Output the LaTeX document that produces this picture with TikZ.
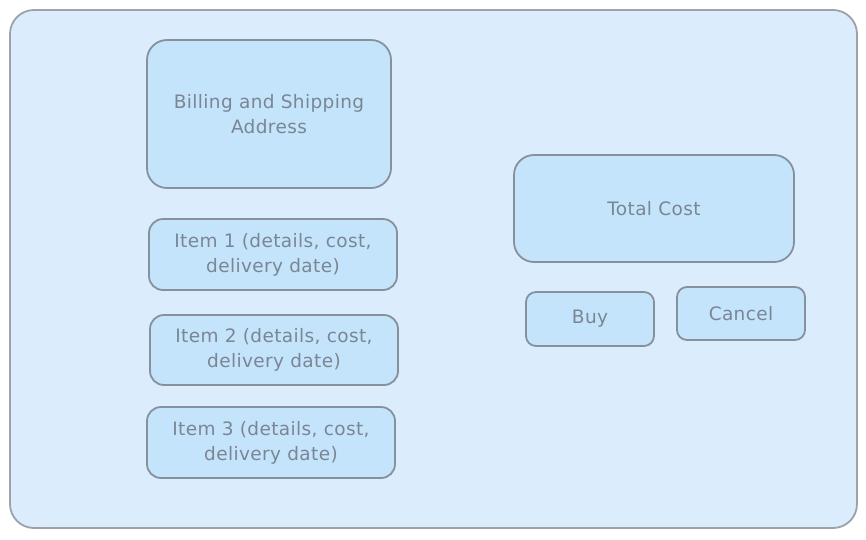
\documentclass[tikz,border=0pt]{standalone}
\usepackage{fontspec}
\setmainfont{DejaVu Sans}[LetterSpace=2]
\definecolor{outerfill}{HTML}{DBEDFD}
\definecolor{outerdraw}{HTML}{9CA2A8}
\definecolor{boxfill}{HTML}{C4E4FC}
\definecolor{boxdraw}{HTML}{86919C}
\definecolor{txt}{HTML}{7B8694}
\tikzset{
  uibox/.style={draw=boxdraw, fill=boxfill, line width=1.8pt, rounded corners=14pt},
  uilabel/.style={text=txt, font=\fontsize{18.5}{25}\selectfont, align=center},
}
\begin{document}
\begin{tikzpicture}[x=1pt,y=-1pt]
\useasboundingbox (0,0) rectangle (866,539);
\fill[white] (0,0) rectangle (866,539);
\node[draw=outerdraw, fill=outerfill, line width=1.8pt, rounded corners=24pt, minimum width=847pt, minimum height=518pt, inner sep=0pt] (frame) at (433.5,269) {};
\node[uibox, rounded corners=20pt, minimum width=244pt, minimum height=148pt] (addr) at (269,114) {};
\node[uilabel] (addrt) at (addr.center) {Billing and Shipping\\Address};
\node[uibox, minimum width=248pt, minimum height=71pt] (item1) at (273,254.5) {};
\node[uilabel] at (item1.center) {Item 1 (details, cost,\\delivery date)};
\node[uibox, minimum width=248pt, minimum height=70pt] (item2) at (274,350) {};
\node[uilabel] at (item2.center) {Item 2 (details, cost,\\delivery date)};
\node[uibox, minimum width=248pt, minimum height=71pt] (item3) at (271,442.5) {};
\node[uilabel] at (item3.center) {Item 3 (details, cost,\\delivery date)};
\node[uibox, rounded corners=20pt, minimum width=280pt, minimum height=107pt] (total) at (654,208.5) {};
\node[uilabel] at (total.center) {Total Cost};
\node[uibox, rounded corners=10pt, minimum width=128pt, minimum height=54pt] (buy) at (590,319) {};
\node[uilabel] at (buy.center) {Buy};
\node[uibox, rounded corners=10pt, minimum width=128pt, minimum height=53pt] (cancel) at (741,313.5) {};
\node[uilabel] at (cancel.center) {Cancel};
\end{tikzpicture}
\end{document}
